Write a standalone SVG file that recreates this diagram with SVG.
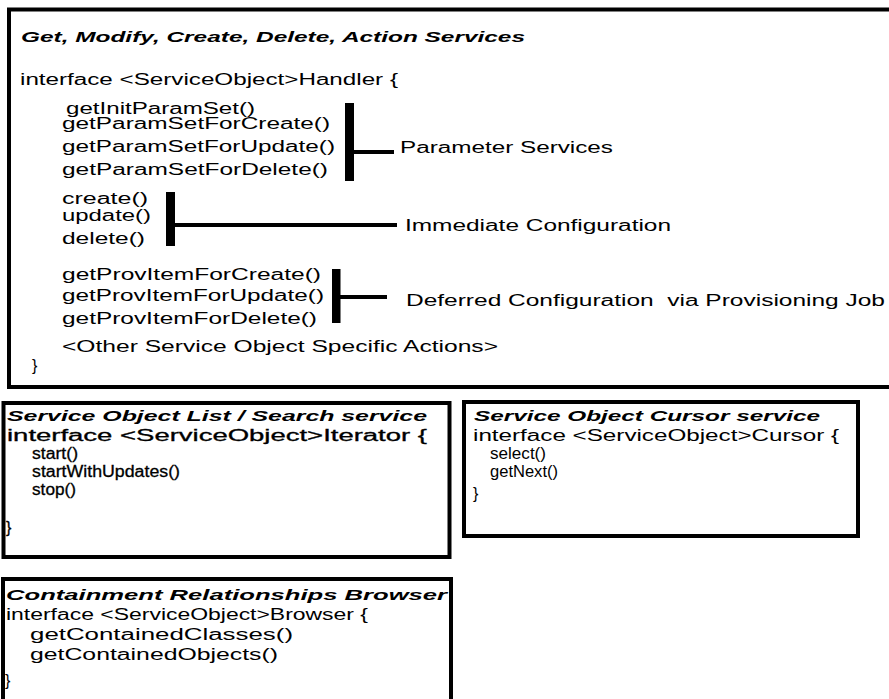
<svg xmlns="http://www.w3.org/2000/svg" width="889" height="699" viewBox="0 0 889 699">
<style>
text { font-family: "Liberation Sans", Arial, sans-serif; font-size: 16px; fill: #000; }
.h { font-weight: bold; font-style: italic; font-size: 15px; }
.dark { stroke: #000; stroke-width: 0.3px; }
.box { fill: none; stroke: #000; stroke-width: 4; }
.bar { fill: #000; }
.conn { stroke: #000; stroke-width: 4; fill: none; }
</style>
<rect x="0" y="0" width="889" height="699" fill="#fff"/>

<g id="handler">
  <rect class="box" x="9" y="9.5" width="900" height="377.5"/>
  <text class="h" x="21" y="42" textLength="504" lengthAdjust="spacingAndGlyphs">Get, Modify, Create, Delete, Action Services</text>
  <text x="20" y="85" textLength="378" lengthAdjust="spacingAndGlyphs">interface &lt;ServiceObject&gt;Handler {</text>
  <text x="66" y="114" textLength="189" lengthAdjust="spacingAndGlyphs">getInitParamSet()</text>
  <text x="62" y="129" textLength="268" lengthAdjust="spacingAndGlyphs">getParamSetForCreate()</text>
  <text x="62" y="152" textLength="273" lengthAdjust="spacingAndGlyphs">getParamSetForUpdate()</text>
  <text x="62" y="175" textLength="266" lengthAdjust="spacingAndGlyphs">getParamSetForDelete()</text>
  <text x="62" y="204" textLength="86" lengthAdjust="spacingAndGlyphs">create()</text>
  <text x="62" y="221" textLength="89" lengthAdjust="spacingAndGlyphs">update()</text>
  <text x="62" y="244" textLength="83" lengthAdjust="spacingAndGlyphs">delete()</text>
  <text x="62" y="280" textLength="259" lengthAdjust="spacingAndGlyphs">getProvItemForCreate()</text>
  <text x="62" y="301" textLength="262" lengthAdjust="spacingAndGlyphs">getProvItemForUpdate()</text>
  <text x="62" y="324" textLength="255" lengthAdjust="spacingAndGlyphs">getProvItemForDelete()</text>
  <text x="62" y="352" textLength="436" lengthAdjust="spacingAndGlyphs">&lt;Other Service Object Specific Actions&gt;</text>
  <text x="32" y="371">}</text>
  <rect class="bar" x="345" y="103" width="9" height="78"/>
  <rect class="bar" x="166" y="192" width="9" height="54"/>
  <rect class="bar" x="332" y="269" width="8.5" height="54"/>
  <text x="400" y="153" textLength="213" lengthAdjust="spacingAndGlyphs">Parameter Services</text>
  <text x="405" y="231" textLength="266" lengthAdjust="spacingAndGlyphs">Immediate Configuration</text>
  <text x="406" y="306" xml:space="preserve" textLength="479" lengthAdjust="spacingAndGlyphs">Deferred Configuration  via Provisioning Job</text>
</g>

<g id="connectors">
  <line class="conn" x1="354" y1="152" x2="394" y2="152"/>
  <line class="conn" x1="175" y1="225" x2="397" y2="225"/>
  <line class="conn" x1="340" y1="297" x2="387" y2="297"/>
</g>

<g id="iterator">
  <rect class="box" x="3.5" y="403" width="446" height="154"/>
  <text class="h" x="7" y="421" textLength="420" lengthAdjust="spacingAndGlyphs">Service Object List / Search service</text>
  <text class="dark" x="7" y="441" textLength="420" lengthAdjust="spacingAndGlyphs">interface &lt;ServiceObject&gt;Iterator {</text>
  <text class="dark" x="32" y="459" textLength="46" lengthAdjust="spacingAndGlyphs">start()</text>
  <text class="dark" x="32" y="477" textLength="148" lengthAdjust="spacingAndGlyphs">startWithUpdates()</text>
  <text class="dark" x="32" y="495" textLength="44" lengthAdjust="spacingAndGlyphs">stop()</text>
  <text class="dark" x="6" y="533">}</text>
</g>

<g id="cursor">
  <rect class="box" x="464" y="402" width="394" height="134"/>
  <text class="h" x="474" y="421" textLength="346" lengthAdjust="spacingAndGlyphs">Service Object Cursor service</text>
  <text x="473" y="441" textLength="366" lengthAdjust="spacingAndGlyphs">interface &lt;ServiceObject&gt;Cursor {</text>
  <text x="490" y="459" textLength="56" lengthAdjust="spacingAndGlyphs">select()</text>
  <text x="490" y="477" textLength="68" lengthAdjust="spacingAndGlyphs">getNext()</text>
  <text x="473" y="499">}</text>
</g>

<g id="browser">
  <rect class="box" x="3" y="579" width="448" height="130"/>
  <text class="h" x="6" y="600" textLength="441" lengthAdjust="spacingAndGlyphs">Containment Relationships Browser</text>
  <text x="6" y="620" textLength="362" lengthAdjust="spacingAndGlyphs">interface &lt;ServiceObject&gt;Browser {</text>
  <text x="30" y="640" textLength="263" lengthAdjust="spacingAndGlyphs">getContainedClasses()</text>
  <text x="30" y="660" textLength="248" lengthAdjust="spacingAndGlyphs">getContainedObjects()</text>
  <text x="5" y="686">}</text>
</g>
</svg>
